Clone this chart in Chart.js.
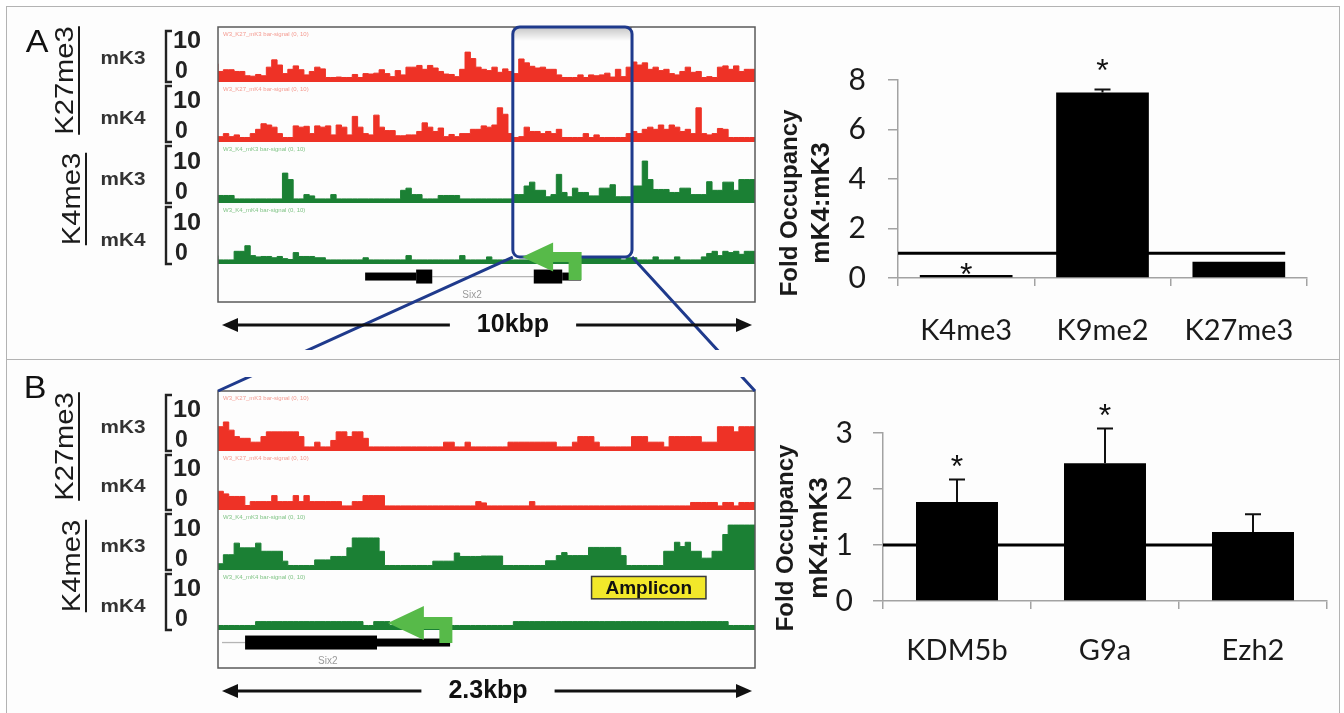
<!DOCTYPE html>
<html>
<head>
<meta charset="utf-8">
<title>Fold occupancy mK4:mK3</title>
<script src="https://cdn.jsdelivr.net/npm/chart.js@4.4.1/dist/chart.umd.min.js"></script>
<style>
  html, body { margin: 0; padding: 0; background: #fff; }
  body { position: relative; width: 1344px; height: 713px; overflow: hidden; }
  .frame { position: absolute; left: 6px; top: 6px; width: 1334px; height: 740px; border: 1.5px solid #b3b3b3; background: #fdfdfd; box-sizing: border-box; }
  .sep { position: absolute; left: 6px; top: 359px; width: 1334px; height: 0; border-top: 1.5px solid #b3b3b3; }
  canvas { position: absolute; }
</style>
</head>
<body>
<div class="frame"></div>
<div class="sep"></div>
<canvas id="tracksA"></canvas>
<canvas id="barsA"></canvas>
<canvas id="tracksB"></canvas>
<canvas id="barsB"></canvas>
<script>
// ---- panel A tracks: 10 kb window, 100 bins of 0.1 kb ----
const spanA = 10;
const a_k27_mK3 = [
  3.8,2,2.4,2.4,2,2,1,0.9,1.3,1,
  3,4.7,3.5,1.5,2.5,3.3,2.4,1.2,2,3,
  2.6,0.6,0.6,0.7,0.6,0.6,1.3,0.6,1.5,1.4,
  1.6,2.4,1.5,0.8,2.2,1.2,3,3,3.4,2.5,
  3.4,2.8,2,1.4,1.3,0.8,2.5,6.5,5,3,
  2.5,2.2,3,1.8,2.6,2,1.5,4.9,4,3.2,
  2.8,3,2.5,2.5,1.2,0.6,0.6,0.6,1.2,0.6,
  1.2,1,1.2,1.6,0.7,2.5,0.8,3,4.2,3.5,
  4,2.5,3,2.2,2.5,1.5,1.2,2,3,1.8,
  2,0.6,0.8,0.6,3,3.3,2.5,3.3,2,2.5];
const a_k27_mK4 = [
  0.6,0.8,1.5,0.8,1.2,0.6,0.6,1.5,2.5,3.8,
  3.5,3,1.5,0.6,0.6,3.3,3,3.2,1.5,3.3,
  3,3.3,1.2,3.5,3,1.2,5.5,3,1.5,1.2,
  5.8,3,2.2,2.2,1,1,1.2,1.2,2,4,
  3,2,2.8,0.8,1.3,0.8,1.5,1.5,2.5,2.5,
  3.3,3,3.5,7.5,6,1.5,0.6,0.8,3,2,
  2,1.5,2,1.5,2.5,0.6,0.6,0.6,0.6,1.5,
  0.6,1.2,0.6,0.6,0.6,0.6,0.6,1.5,2,1.5,
  2.5,3,2.5,3.5,2.5,3.5,3,2,2.5,1.5,
  7.5,1.5,1.2,1.5,2.7,2.5,0.6,0.6,0.6,0.6];
const a_k4_mK3 = [
  1.3,1.3,1.3,1.3,0.5,0.5,0.5,0.5,0.5,0.5,
  0.5,0.5,0.5,6.5,5,0.5,0.5,1.5,1.2,0.5,
  0.5,0.5,1.5,0.5,0.5,0.5,0.5,0.5,0.5,0.5,
  0.5,0.5,0.5,0.5,0.5,2.5,3,1.5,1.5,0.5,
  0.5,0.5,1.3,1.3,1.3,1.3,0.5,0.5,0.5,0.5,
  0.5,0.5,0.5,0.5,0.5,0.5,1.5,1.5,3.5,4.4,
  2.5,2.5,1,1.5,6.2,2,1,3,2,2,
  1.2,1.2,3,3,3.8,1,1,1,3.5,3.5,
  9.3,5,2.7,2.7,2.7,2,2,3,3,1.5,
  1.5,1.5,4.5,2.5,2.5,4.4,4.4,2.5,5,5];
const a_k4_mK4 = [
  1.5,0.5,0.5,0.5,2.5,2.5,3.8,1.5,1.2,1.3,
  1.3,1,1.3,0.8,0.6,2.2,1.3,1.3,1.3,1,
  1,0.5,0.5,0.5,0.5,0.5,0.5,0.5,1,0.5,
  0.5,0.5,0.5,0.5,0.5,0.5,1.5,0.5,0.5,0.5,
  0.5,0.5,0.5,0.5,0.5,0.5,1.5,0.5,0.5,0.5,
  0.5,1.2,0.5,0.5,0.5,0.5,0.5,0.5,0.5,0.5,
  0.5,0.5,0.5,0.5,0.5,0.5,0.5,0.5,1,1,
  1,1,1,1,1,1,0.5,1,1,0.5,
  0.5,0.5,1.2,0.5,0.5,0.5,1.2,0.5,0.5,0.5,
  0.5,1.2,2,2.5,1.5,2.5,2.2,2.5,1.8,2.5];

// ---- panel B tracks: 2.3 kb window, 100 bins ----
const spanB = 2.3;
const b_k27_mK3 = [
  5.2,5.2,6.3,4.4,2.9,2.5,2.5,1.6,1.6,2.9,
  4,4,4,4,4,4,2.9,0.5,0.5,1.6,
  0.5,0.5,2,4,4,2.9,4,4,2.5,0.5,
  0.5,0.5,0.5,0.5,0.5,0.5,0.5,0.5,0.5,0.5,
  0.5,0.5,0.5,1.6,1.6,0.5,0.5,1.6,0.5,0.5,
  0.5,0.5,0.5,0.5,0.5,1.6,1.6,1.6,1.6,1.6,
  1.6,1.6,1.6,1.6,0.5,0.5,0.5,1.6,2.9,2.9,
  2.9,1.6,0.5,0.5,0.5,0.5,0.5,0.5,2.9,2.9,
  2.9,1.6,1.6,1.6,0.5,2.9,2.9,2.9,2.9,2.9,
  2.9,1.6,1.6,1.6,5.2,5.2,5.2,4,5.2,5.2];
const b_k27_mK4 = [
  3.9,3.9,3.3,2.7,2.7,2.7,0.6,1.5,1.5,1.5,
  1.5,2.9,1.5,1.5,1.5,2.9,1.5,2.9,1.5,1.5,
  1.5,1.5,1.5,1.5,0.5,0.5,1.5,1.5,2.9,2.9,
  2.9,2.9,0.5,0.5,0.5,0.5,0.5,0.5,0.5,0.5,
  0.5,0.5,0.5,0.5,0.5,0.5,0.5,0.5,0.5,1.5,
  1.2,0.5,0.5,0.5,0.5,0.5,0.5,0.5,0.5,1.5,
  0.5,0.5,0.5,0.5,0.5,0.5,0.5,0.5,0.5,0.5,
  0.5,0.5,0.5,0.5,0.5,0.5,0.5,0.5,0.5,0.5,
  0.5,0.5,0.5,0.5,0.5,0.5,0.5,0.5,0.5,1.3,
  1.3,1.3,1.3,1.3,0.5,1.3,1.3,0.5,1.3,1.3];
const b_k4_mK3 = [
  1,1,3.1,3.1,5.8,4.7,4.7,4.7,5.8,3.9,
  3.9,3.9,3.9,1.6,0.6,0.6,0.6,0.6,0.6,1.9,
  1.9,1.9,2.7,2.7,2.7,4.7,7,7,7,7,
  7,3.9,0.6,0.6,0.6,0.6,0.6,0.6,0.6,0.6,
  0.6,1.6,1.6,1.6,1.6,3.5,2.7,2.7,2.7,2.7,
  2.8,2.8,2.8,2.8,0.6,0.6,0.6,0.6,0.6,0.6,
  0.6,0.6,1.7,1.7,2.9,3.6,2.9,2.9,2.9,2.9,
  4.8,4.8,4.8,4.8,4.8,4.8,2.9,0.6,0.6,0.6,
  0.6,0.6,0.6,0.6,3.9,3.9,6,5,6,3.9,
  3.9,2.3,2.3,3.9,3.9,7.8,10,10,10,10];
const b_k4_mK4 = [
  0.6,0.6,0.6,0.6,0.6,0.6,0.6,0.6,1.5,1.5,
  1.5,1.5,1.5,1.5,1.5,1.5,1.5,1.5,1.5,1.5,
  1.5,1.5,1.5,1.5,1.5,1.5,1.5,1.5,0.6,0.6,
  1.5,1.5,1.5,0.6,0.6,0.6,0.6,0.6,0.6,0.6,
  0.6,0.6,0.6,0.6,0.6,0.6,0.6,0.6,0.6,0.6,
  0.6,0.6,0.6,0.6,0.6,0.6,1.5,1.5,1.5,1.5,
  1.5,1.5,1.5,1.5,1.5,1.5,1.5,1.5,1.5,1.5,
  1.5,1.5,1.5,1.5,1.5,1.5,1.5,1.5,1.5,1.5,
  1.5,1.5,1.5,1.5,1.5,1.5,1.5,1.5,1.5,1.5,
  1.5,1.5,1.5,1.5,1.5,1.5,0.6,0.6,0.6,0.6];

// ---- gene model, TSS, zoom window, amplicon (kb) ----
const geneA = [[2.74, 3.69, 'utr'], [3.69, 3.99, 'cds'], [5.88, 6.41, 'cds'], [6.41, 6.76, 'utr']];
const intronA = [3.99, 5.88];
const tssA = 6.65;
const zoomA = [5.49, 7.71];
const geneB = [[0.116, 0.681, 'cds'], [0.681, 0.994, 'utr']];
const intronB = [0.017, 0.116];
const tssB = 0.976;
const ampliconB = [1.6, 2.09];
const geneName = 'Six2';

// ---- bar charts ----
const catsA = ['K4me3', 'K9me2', 'K27me3'];
const foldA = [0.12, 7.5, 0.66];
const errA = [0, 0.12, 0];
const starA = [0.45, 8.7, null];
const catsB = ['KDM5b', 'G9a', 'Ezh2'];
const foldB = [1.77, 2.46, 1.23];
const errB = [0.4, 0.62, 0.32];
const starB = [2.53, 3.45, null];
const refLevel = 1;

const RED = '#ee3226', GREEN = '#1b8034', ARROW = '#57ba49', BLUE = '#1f3a8c', AXIS = '#a3a3a3';
const FONT = '"Liberation Sans", Arial, sans-serif';
const PXU = 4.3; // px per signal unit in the tracks

const PLACE = {
  tracksA: [0, 8, 775, 342],
  barsA: [760, 20, 575, 335],
  tracksB: [0, 362, 775, 351],
  barsB: [760, 380, 580, 333]
};
for (const id in PLACE) {
  const c = document.getElementById(id);
  const [l, t, w, h] = PLACE[id];
  c.width = w; c.height = h;
  c.style.left = l + 'px'; c.style.top = t + 'px';
}

Chart.defaults.font.family = 'Lato';

let zoomCorners = null; // page coords of the zoom box bottom corners (panel A)

function makeTracks(id, cfg) {
  const top = PLACE[id][1];
  const scales = { x: { type: 'linear', min: 0, max: cfg.span, display: false } };
  cfg.tracks.forEach((t, i) => {
    scales['t' + i] = { type: 'linear', position: 'right', stack: 'trk', stackWeight: cfg.slots[i], weight: i,
      min: -0.45, max: -0.45 + cfg.slots[i] / PXU, display: false };
  });
  scales.gene = { type: 'linear', position: 'right', stack: 'trk', stackWeight: cfg.geneH, weight: cfg.tracks.length,
    min: 0, max: 1, display: false };

  const datasets = cfg.tracks.map((t, i) => {
    const step = cfg.span / t.data.length;
    const pts = t.data.map((v, j) => ({ x: j * step, y: v }));
    pts.push({ x: cfg.span, y: t.data[t.data.length - 1] });
    return { data: pts, xAxisID: 'x', yAxisID: 't' + i, borderColor: t.color, backgroundColor: t.color,
      borderWidth: 1, pointRadius: 0, stepped: 'after', fill: 'start' };
  });

  const decor = {
    id: 'trackDecor',
    afterDraw(chart) {
      const ctx = chart.ctx, a = chart.chartArea, xs = chart.scales.x, gs = chart.scales.gene;
      const X = v => xs.getPixelForValue(v);
      ctx.save();
      ctx.strokeStyle = '#5a5a5a'; ctx.lineWidth = 1.5;
      ctx.strokeRect(a.left, a.top, a.right - a.left, a.bottom - a.top);

      // track headers, scale brackets, names
      cfg.tracks.forEach((t, i) => {
        const s = chart.scales['t' + i];
        const base = s.getPixelForValue(0);
        ctx.fillStyle = t.tint; ctx.font = '6px ' + FONT; ctx.textAlign = 'left'; ctx.textBaseline = 'top';
        ctx.fillText(t.header, a.left + 5, s.top + 4);
        ctx.strokeStyle = '#222'; ctx.lineWidth = 2.4;
        ctx.beginPath();
        ctx.moveTo(172, s.top + 4); ctx.lineTo(166, s.top + 4); ctx.lineTo(166, base + 2); ctx.lineTo(172, base + 2);
        ctx.stroke();
        ctx.fillStyle = '#222'; ctx.font = 'bold 23px ' + FONT; ctx.textBaseline = 'middle';
        ctx.save(); ctx.translate(173, base - 38); ctx.scale(1.1, 1); ctx.fillText('10', 0, 0); ctx.restore();
        ctx.fillText('0', 175, base - 8);
        ctx.font = 'bold 18px ' + FONT; ctx.textAlign = 'center'; ctx.fillStyle = '#333';
        ctx.save(); ctx.translate(123, base - 21); ctx.scale(1.15, 1); ctx.fillText(t.name, 0, 0); ctx.restore();
      });

      // histone mark labels, rotated and underlined
      cfg.marks.forEach((m, k) => {
        const s0 = chart.scales['t' + (2 * k)], s1 = chart.scales['t' + (2 * k + 1)];
        const cy = (s0.top + s1.bottom) / 2 - 4;
        ctx.save();
        ctx.translate(m.x, cy); ctx.rotate(-Math.PI / 2); ctx.scale(1.12, 1);
        ctx.font = '26px ' + FONT; ctx.fillStyle = '#1a1a1a'; ctx.textAlign = 'center'; ctx.textBaseline = 'middle';
        ctx.fillText(m.text, 0, 0);
        const w = ctx.measureText(m.text).width;
        ctx.strokeStyle = '#1a1a1a'; ctx.lineWidth = 2;
        ctx.beginPath(); ctx.moveTo(-w / 2, 13); ctx.lineTo(w / 2, 13); ctx.stroke();
        ctx.restore();
      });

      // panel letter
      ctx.fillStyle = '#111'; ctx.font = '31px ' + FONT; ctx.textAlign = 'center'; ctx.textBaseline = 'middle';
      ctx.save(); ctx.translate(cfg.letterPos[0], cfg.letterPos[1]); ctx.scale(1.1, 1); ctx.fillText(cfg.letter, 0, 0); ctx.restore();

      // gene model
      const gy = gs.getPixelForValue(0.67);
      ctx.strokeStyle = '#b5b5b5'; ctx.lineWidth = 1.3;
      ctx.beginPath(); ctx.moveTo(X(cfg.intron[0]), gy); ctx.lineTo(X(cfg.intron[1]), gy); ctx.stroke();
      ctx.fillStyle = '#000';
      cfg.gene.forEach(([s, e, kind]) => {
        const h = kind === 'cds' ? 14 : 8;
        ctx.fillRect(X(s), gy - h / 2, X(e) - X(s), h);
      });
      ctx.fillStyle = '#9a9a9a'; ctx.font = '10px ' + FONT;
      ctx.fillText(geneName, X(cfg.geneLabel), gs.getPixelForValue(0.19));

      const base3 = chart.scales.t3.getPixelForValue(0);

      // zoom window (panel A) and zoom lines
      if (cfg.zoom) {
        const x0 = X(cfg.zoom[0]), x1 = X(cfg.zoom[1]), yb = base3 - 5;
        const grad = ctx.createLinearGradient(0, a.top, 0, a.top + 14);
        grad.addColorStop(0, 'rgba(0,0,0,0.22)'); grad.addColorStop(1, 'rgba(0,0,0,0)');
        ctx.fillStyle = grad; ctx.fillRect(x0, a.top, x1 - x0, 14);
        zoomCorners = [[x0, yb + top], [x1, yb + top]];
        const ty = cfg.zoomTargetTop - top;
        ctx.strokeStyle = BLUE; ctx.lineWidth = 3; ctx.lineJoin = 'round';
        ctx.beginPath(); ctx.moveTo(x0, yb); ctx.lineTo(a.left, ty); ctx.moveTo(x1, yb); ctx.lineTo(a.right, ty); ctx.stroke();
        ctx.beginPath(); ctx.roundRect(x0, a.top, x1 - x0, yb - a.top, 7); ctx.stroke();
      }
      if (cfg.zoomFromA && zoomCorners) {
        ctx.save();
        ctx.beginPath(); ctx.rect(0, cfg.zoomClipTop - top, chart.width, chart.height); ctx.clip();
        ctx.strokeStyle = BLUE; ctx.lineWidth = 3;
        ctx.beginPath();
        ctx.moveTo(zoomCorners[0][0], zoomCorners[0][1] - top); ctx.lineTo(a.left, a.top);
        ctx.moveTo(zoomCorners[1][0], zoomCorners[1][1] - top); ctx.lineTo(a.right, a.top);
        ctx.stroke();
        ctx.restore();
      }

      // TSS arrow pointing left
      const ar = cfg.arrow, sx = X(cfg.tss), ay = base3 - 5;
      ctx.fillStyle = ARROW;
      ctx.beginPath();
      ctx.moveTo(sx - ar.tip, ay);
      ctx.lineTo(sx - ar.head, ay - ar.hh);
      ctx.lineTo(sx - ar.head, ay - ar.st / 2);
      ctx.lineTo(sx + ar.sw / 2, ay - ar.st / 2);
      ctx.lineTo(sx + ar.sw / 2, ay + ar.down);
      ctx.lineTo(sx - ar.sw / 2, ay + ar.down);
      ctx.lineTo(sx - ar.sw / 2, ay + ar.st / 2);
      ctx.lineTo(sx - ar.head, ay + ar.st / 2);
      ctx.lineTo(sx - ar.head, ay + ar.hh);
      ctx.closePath(); ctx.fill();

      // amplicon (panel B)
      if (cfg.amplicon) {
        const s3 = chart.scales.t3;
        const l = X(cfg.amplicon[0]), r = X(cfg.amplicon[1]);
        const t0 = s3.getPixelForValue(12), t1 = s3.getPixelForValue(6.8);
        ctx.fillStyle = '#f2e82a'; ctx.fillRect(l, t0, r - l, t1 - t0);
        ctx.strokeStyle = '#3a3a3a'; ctx.lineWidth = 1.5; ctx.strokeRect(l, t0, r - l, t1 - t0);
        ctx.fillStyle = '#111'; ctx.font = 'bold 19px ' + FONT;
        ctx.fillText('Amplicon', (l + r) / 2, (t0 + t1) / 2 + 1);
      }

      // size bar under the box
      const sy = a.bottom + 23;
      ctx.font = 'bold 25px ' + FONT; ctx.fillStyle = '#111';
      const tw = ctx.measureText(cfg.sizeLabel).width, tx = cfg.sizeLabelX;
      ctx.fillText(cfg.sizeLabel, tx, sy);
      const L = a.left + 4, R = a.right - 3;
      ctx.strokeStyle = '#111'; ctx.lineWidth = 3;
      ctx.beginPath();
      ctx.moveTo(L + 10, sy); ctx.lineTo(tx - tw / 2 - 27, sy);
      ctx.moveTo(tx + tw / 2 + 27, sy); ctx.lineTo(R - 10, sy);
      ctx.stroke();
      ctx.fillStyle = '#111';
      ctx.beginPath(); ctx.moveTo(L, sy); ctx.lineTo(L + 16, sy - 7); ctx.lineTo(L + 16, sy + 7); ctx.closePath(); ctx.fill();
      ctx.beginPath(); ctx.moveTo(R, sy); ctx.lineTo(R - 16, sy - 7); ctx.lineTo(R - 16, sy + 7); ctx.closePath(); ctx.fill();
      ctx.restore();
    }
  };

  return new Chart(document.getElementById(id), {
    type: 'line',
    data: { datasets },
    options: {
      responsive: false, animation: false, events: [],
      layout: { padding: cfg.pad },
      plugins: { legend: { display: false }, tooltip: { enabled: false } },
      scales
    },
    plugins: [decor]
  });
}

function makeBars(id, cfg) {
  const extras = {
    id: 'barExtras',
    beforeDatasetsDraw(chart) {
      const ctx = chart.ctx, a = chart.chartArea, y = chart.scales.y;
      const bars = chart.getDatasetMeta(0).data, last = bars[bars.length - 1];
      const py = y.getPixelForValue(refLevel);
      ctx.save(); ctx.strokeStyle = '#000'; ctx.lineWidth = 3;
      ctx.beginPath(); ctx.moveTo(a.left, py); ctx.lineTo(last.x + last.width / 2, py); ctx.stroke();
      ctx.restore();
    },
    afterDatasetsDraw(chart) {
      const ctx = chart.ctx, y = chart.scales.y;
      ctx.save(); ctx.strokeStyle = '#111'; ctx.lineWidth = 2;
      chart.getDatasetMeta(0).data.forEach((bar, i) => {
        const e = cfg.errors[i];
        if (e > 0) {
          const p0 = y.getPixelForValue(cfg.values[i]), p1 = y.getPixelForValue(cfg.values[i] + e);
          ctx.beginPath();
          ctx.moveTo(bar.x, p0); ctx.lineTo(bar.x, p1);
          ctx.moveTo(bar.x - 8, p1); ctx.lineTo(bar.x + 8, p1);
          ctx.stroke();
        }
        if (cfg.stars[i] != null) {
          ctx.fillStyle = '#111'; ctx.font = '32px ' + FONT; ctx.textAlign = 'center'; ctx.textBaseline = 'alphabetic';
          ctx.fillText('*', bar.x, y.getPixelForValue(cfg.stars[i]) + 18);
        }
      });
      ctx.restore();
    },
    afterDraw(chart) {
      const ctx = chart.ctx, a = chart.chartArea;
      const cy = (a.top + a.bottom) / 2 + cfg.titleDy;
      cfg.title.forEach((t, k) => {
        ctx.save();
        ctx.translate(cfg.titleX[k], cy); ctx.rotate(-Math.PI / 2);
        ctx.font = 'bold ' + cfg.titleSize[k] + 'px ' + FONT; ctx.fillStyle = '#1a1a1a';
        ctx.textAlign = 'center'; ctx.textBaseline = 'middle';
        ctx.fillText(t, 0, 0);
        ctx.restore();
      });
    }
  };

  return new Chart(document.getElementById(id), {
    type: 'bar',
    data: {
      labels: cfg.labels,
      datasets: [{ data: cfg.values, backgroundColor: '#000', borderWidth: 0, barPercentage: cfg.barPct, categoryPercentage: 1 }]
    },
    options: {
      responsive: false, animation: false, events: [],
      layout: { padding: cfg.pad },
      plugins: { legend: { display: false }, tooltip: { enabled: false } },
      scales: {
        x: {
          grid: { drawOnChartArea: false, tickLength: 8, color: AXIS, lineWidth: 1.5 },
          border: { color: AXIS, width: 1.5 },
          ticks: { color: '#1a1a1a', font: { family: 'Lato', size: 29 }, padding: cfg.xPad },
          afterFit: s => { s.height = cfg.xH; }
        },
        y: {
          min: 0, max: cfg.max,
          grid: { drawOnChartArea: false, tickLength: 10, color: AXIS, lineWidth: 1.5 },
          border: { color: AXIS, width: 1.5 },
          ticks: { stepSize: cfg.step, color: '#1a1a1a', font: { family: 'Lato', size: 30 }, padding: cfg.yPad },
          afterFit: s => { s.width = cfg.yW; }
        }
      }
    },
    plugins: [extras]
  });
}

const padTB = { left: 218, right: 20, top: 29, bottom: 45 };

makeTracks('tracksA', {
  span: spanA, slots: [55, 60, 61, 61], geneH: 38,
  pad: { left: 218, right: 20, top: 19, bottom: 48 },
  tracks: [
    { name: 'mK3', data: a_k27_mK3, color: RED, tint: '#f49a90', header: 'W3_K27_mK3 bar-signal (0, 10)' },
    { name: 'mK4', data: a_k27_mK4, color: RED, tint: '#f49a90', header: 'W3_K27_mK4 bar-signal (0, 10)' },
    { name: 'mK3', data: a_k4_mK3, color: GREEN, tint: '#80c486', header: 'W3_K4_mK3 bar-signal (0, 10)' },
    { name: 'mK4', data: a_k4_mK4, color: GREEN, tint: '#80c486', header: 'W3_K4_mK4 bar-signal (0, 10)' }
  ],
  marks: [{ text: 'K27me3', x: 66 }, { text: 'K4me3', x: 73 }],
  letter: 'A', letterPos: [37, 35],
  gene: geneA, intron: intronA, geneLabel: 4.73, tss: tssA,
  arrow: { tip: 53, head: 22, hh: 14.5, st: 10, sw: 13, down: 23 },
  zoom: zoomA, zoomTargetTop: PLACE.tracksB[1] + padTB.top,
  sizeLabel: '10kbp', sizeLabelX: 513
});

makeBars('barsA', {
  labels: catsA, values: foldA, errors: errA, stars: starA,
  max: 8, step: 2, barPct: 0.68,
  pad: { left: 0, right: 28, top: 60, bottom: 0 },
  yW: 138, xH: 77, xPad: 27, yPad: 22,
  title: ['Fold Occupancy', 'mK4:mK3'], titleSize: [24, 26], titleX: [30, 62], titleDy: 24
});

makeTracks('tracksB', {
  span: spanB, slots: [60, 59, 60, 60], geneH: 38,
  pad: padTB,
  tracks: [
    { name: 'mK3', data: b_k27_mK3, color: RED, tint: '#f49a90', header: 'W3_K27_mK3 bar-signal (0, 10)' },
    { name: 'mK4', data: b_k27_mK4, color: RED, tint: '#f49a90', header: 'W3_K27_mK4 bar-signal (0, 10)' },
    { name: 'mK3', data: b_k4_mK3, color: GREEN, tint: '#80c486', header: 'W3_K4_mK3 bar-signal (0, 10)' },
    { name: 'mK4', data: b_k4_mK4, color: GREEN, tint: '#80c486', header: 'W3_K4_mK4 bar-signal (0, 10)' }
  ],
  marks: [{ text: 'K27me3', x: 66 }, { text: 'K4me3', x: 73 }],
  letter: 'B', letterPos: [35, 27],
  gene: geneB, intron: intronB, geneLabel: 0.47, tss: tssB,
  arrow: { tip: 58, head: 22, hh: 17, st: 12, sw: 13, down: 20 },
  amplicon: ampliconB, zoomFromA: true, zoomClipTop: 377,
  sizeLabel: '2.3kbp', sizeLabelX: 488
});

makeBars('barsB', {
  labels: catsB, values: foldB, errors: errB, stars: starB,
  max: 3, step: 1, barPct: 0.554,
  pad: { left: 0, right: 13, top: 53, bottom: 0 },
  yW: 123, xH: 112, xPad: 24, yPad: 20,
  title: ['Fold Occupancy', 'mK4:mK3'], titleSize: [24, 26], titleX: [26, 60], titleDy: 21
});
</script>
</body>
</html>
